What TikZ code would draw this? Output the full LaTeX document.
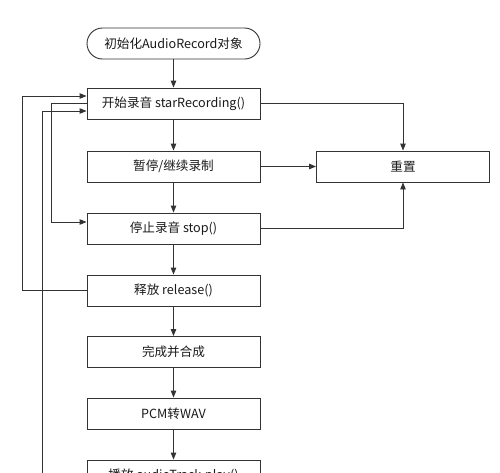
\documentclass[tikz,border=0pt]{standalone}
\usepackage{fontspec}
\setmainfont{Noto Sans CJK SC}
\usetikzlibrary{arrows.meta,positioning}
\definecolor{lc}{HTML}{333333}
\definecolor{tc}{HTML}{1a1a1a}
\tikzset{
  flowbox/.style={draw=lc, line width=0.9pt, fill=white, minimum width=173pt, minimum height=31pt, inner sep=0pt, font=\fontsize{12.6}{14}\selectfont, text=tc},
  startbox/.style={flowbox, rounded corners=15.5pt},
  conn/.style={draw=lc, line width=0.9pt},
  arr/.style={conn, -{Triangle[length=7pt,width=5.5pt]}}
}
\begin{document}
\begin{tikzpicture}[x=1pt,y=-1pt]
\useasboundingbox (0,0) rectangle (500,472);
\clip (0,0) rectangle (500,472);
\fill[white] (0,0) rectangle (500,472);
\node[startbox] (s) at (173.5,43.5) {初始化AudioRecord对象};
\node[flowbox] (b1) at (173.5,103.5) {开始录音 starRecording()};
\node[flowbox] (b2) at (173.5,166.5) {暂停/继续录制};
\node[flowbox] (b3) at (173.5,228.5) {停止录音 stop()};
\node[flowbox] (b4) at (173.5,290.5) {释放 release()};
\node[flowbox] (b5) at (173.5,352) {完成并合成};
\node[flowbox] (b6) at (173.5,413.5) {PCM转WAV};
\node[flowbox] (b7) at (173.5,475.5) {播放 audioTrack.play()};
\node[flowbox] (r) at (403,166.5) {重置};

\draw[arr] (s) -- (b1);
\draw[arr] (b1) -- (b2);
\draw[arr] (b2) -- (b3);
\draw[arr] (b3) -- (b4);
\draw[arr] (b4) -- (b5);
\draw[arr] (b5) -- (b6);
\draw[arr] (b6) -- (b7);

\draw[arr] (b1.east) -| (r.north);
\draw[arr] (b2) -- (r);
\draw[arr] (b3.east) -| (r.south);

% left loops
\coordinate (c1) at (51,0);
\draw[arr] (b1.west) -- (b1.west -| c1) |- ([yshift=6.5pt]b3.west);
\coordinate (c2) at (22,0);
\draw[arr] (b4.west) -- (b4.west -| c2) |- ([yshift=7.5pt]b1.west);
\coordinate (c3) at (42,0);
\draw[arr] (b7.west) -- (b7.west -| c3) |- ([yshift=-7.5pt]b1.west);
\end{tikzpicture}
\end{document}
